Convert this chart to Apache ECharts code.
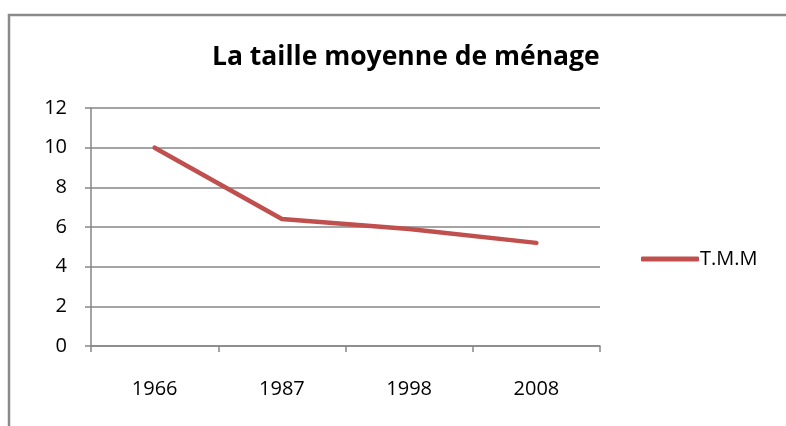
<!DOCTYPE html>
<html>
<head>
<meta charset="utf-8">
<script src="https://cdn.jsdelivr.net/npm/echarts@6/dist/echarts.min.js"></script>
<style>
  html, body { margin: 0; padding: 0; background: #fff; }
  #chart { width: 786px; height: 426px; }
</style>
</head>
<body>
<div id="chart"></div>
<script>
// donnees
var years = ['1966', '1987', '1998', '2008'];
var tmm = [10, 6.4, 5.9, 5.2];
var yTicks = [0, 2, 4, 6, 8, 10, 12];

var myChart = echarts.init(document.getElementById('chart'));
var font = 'Open Sans';

myChart.setOption({
    backgroundColor: '#fff',
    animation: false,
    title: {
        text: 'La taille moyenne de ménage',
        left: 207,
        top: 39,
        textStyle: {
            fontFamily: font,
            fontSize: 26.5,
            fontWeight: 'bold',
            color: '#000'
        }
    },
    // cadre gris du graphique (ouvert a droite et en bas)
    graphic: [{
        type: 'rect',
        shape: { x: 9, y: 15, width: 800, height: 440 },
        style: { fill: 'none', stroke: '#8a8a8a', lineWidth: 2.5 },
        silent: true
    }],
    legend: {
        data: ['T.M.M'],
        left: 636,
        top: 244,
        icon: 'roundRect',
        itemWidth: 58,
        itemHeight: 5,
        textStyle: { fontFamily: font, fontSize: 20, color: '#000', padding: [0, 0, 0, -4] }
    },
    grid: { left: 91, right: 186, top: 108, bottom: 80 },
    xAxis: {
        type: 'category',
        data: years,
        boundaryGap: true,
        axisLine: { lineStyle: { color: '#868686', width: 1.5 } },
        axisTick: { show: true, length: 6, lineStyle: { color: '#868686', width: 1.5 } },
        axisLabel: { fontFamily: font, fontSize: 20, color: '#000', margin: 33 }
    },
    yAxis: {
        type: 'value',
        min: yTicks[0],
        max: yTicks[yTicks.length - 1],
        interval: 2,
        axisLine: { show: true, lineStyle: { color: '#868686', width: 1.5 } },
        axisTick: { show: true, length: 6, lineStyle: { color: '#868686', width: 1.5 } },
        axisLabel: { fontFamily: font, fontSize: 20, color: '#000', margin: 24 },
        splitLine: { lineStyle: { color: '#868686', width: 1.5 } }
    },
    series: [{
        name: 'T.M.M',
        type: 'line',
        data: tmm,
        symbol: 'none',
        lineStyle: { color: '#C0504D', width: 4.5, cap: 'round', join: 'round' },
        itemStyle: { color: '#C0504D' }
    }]
});
</script>
</body>
</html>
